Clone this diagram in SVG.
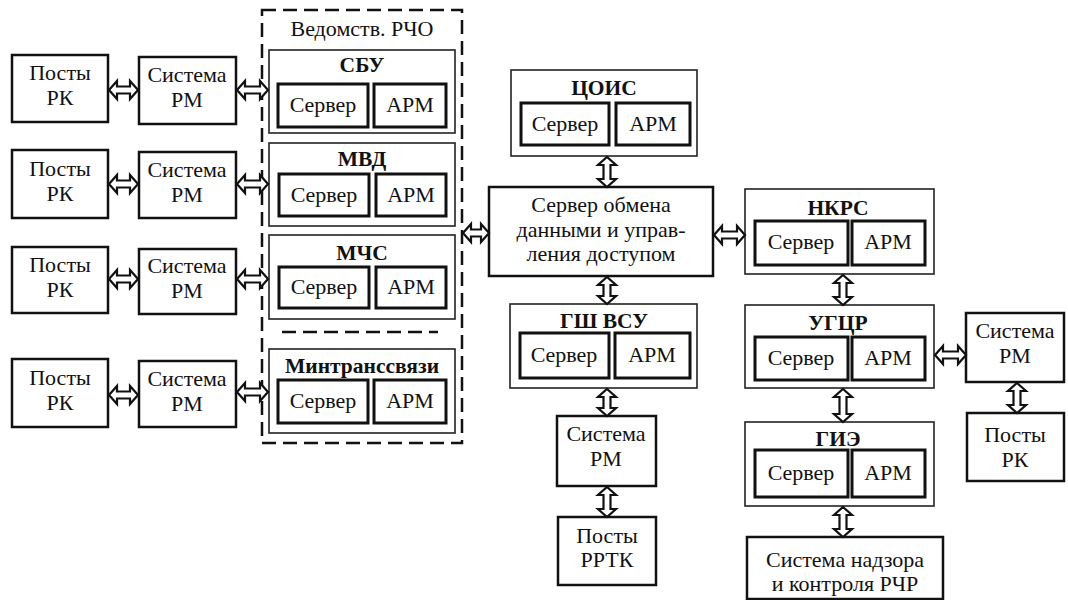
<svg xmlns="http://www.w3.org/2000/svg" width="1068" height="600" viewBox="0 0 1068 600">
<style>
.bg{fill:#fff}
.box{fill:#fff;stroke:#111;stroke-width:2.5}
.grp{fill:#fff;stroke:#222;stroke-width:1.6}
.inner{fill:#fff;stroke:#111;stroke-width:3}
.dash{fill:none;stroke:#111;stroke-width:2.5;stroke-dasharray:14 7}
text{font-family:'Liberation Serif','Times New Roman','DejaVu Serif',serif;fill:#111;text-anchor:middle}
.t{font-size:22px;font-weight:normal}
.b{font-size:21.5px;font-weight:bold}
.arrow{fill:#fff;stroke:#111;stroke-width:2.2;stroke-linejoin:miter}
</style>
<rect class="bg" x="0" y="0" width="1068" height="600"/>

<g id="row1-posts"><rect class="box" x="12" y="55" width="96" height="67"/><text class="t" x="60" y="80">Посты</text><text class="t" x="60" y="105">РК</text></g>
<g id="row1-rm"><rect class="box" x="139" y="57" width="97" height="67"/><text class="t" x="187" y="82">Система</text><text class="t" x="187" y="107">РМ</text></g>
<g id="row2-posts"><rect class="box" x="12" y="150" width="96" height="68"/><text class="t" x="60" y="176">Посты</text><text class="t" x="60" y="201">РК</text></g>
<g id="row2-rm"><rect class="box" x="139" y="152" width="97" height="66"/><text class="t" x="187" y="177">Система</text><text class="t" x="187" y="202">РМ</text></g>
<g id="row3-posts"><rect class="box" x="12" y="247" width="96" height="66"/><text class="t" x="60" y="272">Посты</text><text class="t" x="60" y="297">РК</text></g>
<g id="row3-rm"><rect class="box" x="139" y="249" width="97" height="65"/><text class="t" x="187" y="273">Система</text><text class="t" x="187" y="298">РМ</text></g>
<g id="row4-posts"><rect class="box" x="12" y="359" width="96" height="68"/><text class="t" x="60" y="385">Посты</text><text class="t" x="60" y="410">РК</text></g>
<g id="row4-rm"><rect class="box" x="139" y="361" width="97" height="66"/><text class="t" x="187" y="386">Система</text><text class="t" x="187" y="411">РМ</text></g>

<g id="vedomstv">
<rect class="dash" x="262" y="10" width="200" height="433"/>
<text class="t" x="362" y="36">Ведомств. РЧО</text>
<line class="dash" x1="282" y1="332" x2="438" y2="332"/>
</g>
<g id="sbu"><rect class="grp" x="269" y="50" width="186" height="83"/><text class="b" x="362" y="72">СБУ</text>
<rect class="inner" x="278" y="84" width="90" height="43"/><text class="t" x="323" y="112">Сервер</text>
<rect class="inner" x="374" y="84" width="72" height="43"/><text class="t" x="410" y="112">АРМ</text></g>
<g id="mvd"><rect class="grp" x="269" y="143" width="186" height="83"/><text class="b" x="362" y="166">МВД</text>
<rect class="inner" x="279" y="174" width="90" height="42"/><text class="t" x="324" y="202">Сервер</text>
<rect class="inner" x="376" y="174" width="70" height="42"/><text class="t" x="411" y="202">АРМ</text></g>
<g id="mchs"><rect class="grp" x="269" y="235" width="186" height="84"/><text class="b" x="362" y="260">МЧС</text>
<rect class="inner" x="279" y="267" width="90" height="41"/><text class="t" x="324" y="294">Сервер</text>
<rect class="inner" x="376" y="267" width="70" height="41"/><text class="t" x="411" y="294">АРМ</text></g>
<g id="mintrans"><rect class="grp" x="269" y="349" width="186" height="84"/><text class="b" x="362" y="373">Минтранссвязи</text>
<rect class="inner" x="278" y="380" width="90" height="43"/><text class="t" x="323" y="408">Сервер</text>
<rect class="inner" x="374" y="380" width="72" height="43"/><text class="t" x="410" y="408">АРМ</text></g>

<g id="tsois"><rect class="grp" x="511" y="70" width="186" height="86"/><text class="b" x="604" y="95">ЦОИС</text>
<rect class="inner" x="521" y="103" width="88" height="42"/><text class="t" x="565" y="131">Сервер</text>
<rect class="inner" x="616" y="103" width="74" height="42"/><text class="t" x="653" y="131">АРМ</text></g>
<g id="server-exchange"><rect class="box" x="489" y="187" width="224" height="89"/>
<text class="t" x="601" y="212">Сервер обмена</text><text class="t" x="601" y="237">данными и управ-</text><text class="t" x="601" y="261">ления доступом</text></g>
<g id="gsh-vsu"><rect class="grp" x="510" y="304" width="187" height="84"/><text class="b" x="604" y="328">ГШ ВСУ</text>
<rect class="inner" x="520" y="333" width="89" height="45"/><text class="t" x="564" y="362">Сервер</text>
<rect class="inner" x="615" y="333" width="75" height="45"/><text class="t" x="652" y="362">АРМ</text></g>
<g id="center-rm"><rect class="box" x="557" y="416" width="99" height="70"/><text class="t" x="606" y="441">Система</text><text class="t" x="606" y="466">РМ</text></g>
<g id="posty-rrtk"><rect class="box" x="558" y="517" width="98" height="68"/><text class="t" x="607" y="543">Посты</text><text class="t" x="607" y="567">РРТК</text></g>

<g id="nkrs"><rect class="grp" x="745" y="189" width="189" height="85"/><text class="b" x="838" y="215">НКРС</text>
<rect class="inner" x="755" y="221" width="93" height="44"/><text class="t" x="801" y="249">Сервер</text>
<rect class="inner" x="852" y="221" width="73" height="44"/><text class="t" x="888" y="249">АРМ</text></g>
<g id="ugtsr"><rect class="grp" x="745" y="305" width="189" height="83"/><text class="b" x="838" y="330">УГЦР</text>
<rect class="inner" x="755" y="337" width="93" height="43"/><text class="t" x="801" y="365">Сервер</text>
<rect class="inner" x="852" y="337" width="73" height="43"/><text class="t" x="888" y="365">АРМ</text></g>
<g id="right-rm"><rect class="box" x="966" y="313" width="98" height="69"/><text class="t" x="1015" y="338">Система</text><text class="t" x="1015" y="363">РМ</text></g>
<g id="right-posts"><rect class="box" x="967" y="413" width="97" height="68"/><text class="t" x="1015" y="442">Посты</text><text class="t" x="1015" y="467">РК</text></g>
<g id="gie"><rect class="grp" x="745" y="422" width="189" height="84"/><text class="b" x="838" y="446">ГИЭ</text>
<rect class="inner" x="755" y="450" width="93" height="47"/><text class="t" x="801" y="480">Сервер</text>
<rect class="inner" x="852" y="450" width="73" height="47"/><text class="t" x="888" y="480">АРМ</text></g>
<g id="nadzor"><rect class="box" x="747" y="537" width="196" height="62"/><text class="t" x="845" y="567">Система надзора</text><text class="t" x="845" y="591">и контроля РЧР</text></g>

<g id="connectors">
<path class="arrow" d="M109 90 L117 81 L117 86.5 L130 86.5 L130 81 L138 90 L130 99 L130 93.5 L117 93.5 L117 99 Z"/>
<path class="arrow" d="M237 90 L245 81 L245 86.5 L260 86.5 L260 81 L268 90 L260 99 L260 93.5 L245 93.5 L245 99 Z"/>
<path class="arrow" d="M109 184 L117 175 L117 180.5 L130 180.5 L130 175 L138 184 L130 193 L130 187.5 L117 187.5 L117 193 Z"/>
<path class="arrow" d="M237 184 L245 175 L245 180.5 L260 180.5 L260 175 L268 184 L260 193 L260 187.5 L245 187.5 L245 193 Z"/>
<path class="arrow" d="M109 279 L117 270 L117 275.5 L130 275.5 L130 270 L138 279 L130 288 L130 282.5 L117 282.5 L117 288 Z"/>
<path class="arrow" d="M237 279 L245 270 L245 275.5 L260 275.5 L260 270 L268 279 L260 288 L260 282.5 L245 282.5 L245 288 Z"/>
<path class="arrow" d="M109 395 L117 386 L117 391.5 L130 391.5 L130 386 L138 395 L130 404 L130 398.5 L117 398.5 L117 404 Z"/>
<path class="arrow" d="M237 392 L245 383 L245 388.5 L260 388.5 L260 383 L268 392 L260 401 L260 395.5 L245 395.5 L245 401 Z"/>
<path class="arrow" d="M463 233 L471 224 L471 229.5 L481 229.5 L481 224 L489 233 L481 242 L481 236.5 L471 236.5 L471 242 Z"/>
<path class="arrow" d="M714 235 L722 226 L722 231.5 L737 231.5 L737 226 L745 235 L737 244 L737 238.5 L722 238.5 L722 244 Z"/>
<path class="arrow" d="M935 355 L943 346 L943 351.5 L958 351.5 L958 346 L966 355 L958 364 L958 358.5 L943 358.5 L943 364 Z"/>
<path class="arrow" d="M607 157 L616 165 L610.5 165 L610.5 179 L616 179 L607 187 L598 179 L603.5 179 L603.5 165 L598 165 Z"/>
<path class="arrow" d="M607 277 L616 285 L610.5 285 L610.5 296 L616 296 L607 304 L598 296 L603.5 296 L603.5 285 L598 285 Z"/>
<path class="arrow" d="M607 389 L616 397 L610.5 397 L610.5 408 L616 408 L607 416 L598 408 L603.5 408 L603.5 397 L598 397 Z"/>
<path class="arrow" d="M607 487 L616 495 L610.5 495 L610.5 509 L616 509 L607 517 L598 509 L603.5 509 L603.5 495 L598 495 Z"/>
<path class="arrow" d="M843 275 L852 283 L846.5 283 L846.5 297 L852 297 L843 305 L834 297 L839.5 297 L839.5 283 L834 283 Z"/>
<path class="arrow" d="M843 389 L852 397 L846.5 397 L846.5 414 L852 414 L843 422 L834 414 L839.5 414 L839.5 397 L834 397 Z"/>
<path class="arrow" d="M843 507 L852 515 L846.5 515 L846.5 529 L852 529 L843 537 L834 529 L839.5 529 L839.5 515 L834 515 Z"/>
<path class="arrow" d="M1017 383 L1026 391 L1020.5 391 L1020.5 405 L1026 405 L1017 413 L1008 405 L1013.5 405 L1013.5 391 L1008 391 Z"/>
</g>
</svg>
